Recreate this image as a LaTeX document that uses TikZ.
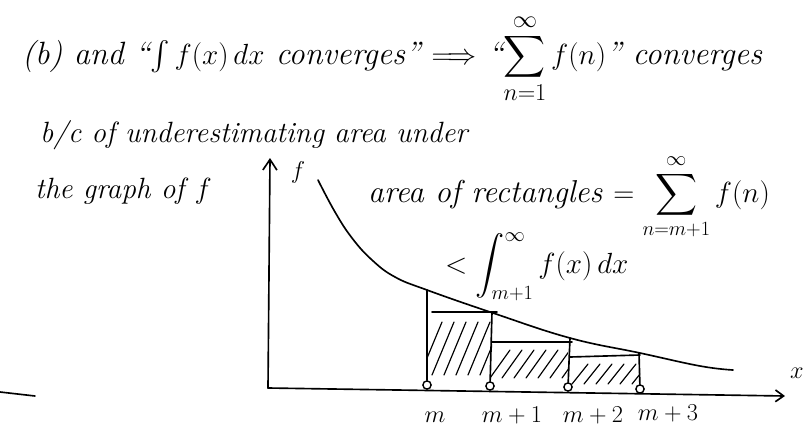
\documentclass[tikz,border=0pt]{standalone}
\usepackage{amsmath}
\usepackage{exscale}
\usetikzlibrary{arrows.meta}
\begin{document}
\begin{tikzpicture}[x=0.03cm,y=-0.03cm,
  hand/.style={line width=1.4pt,line cap=round,line join=round},
  thin hand/.style={line width=1pt,line cap=round},
  note/.style={font=\fontsize{25}{30}\selectfont\itshape,inner sep=0pt,anchor=base west},
  ticklabel/.style={font=\fontsize{21}{24}\selectfont\itshape,inner sep=0pt,anchor=base},
  axisdot/.style={circle,draw,line width=1.2pt,inner sep=0pt,minimum size=7pt}]
\useasboundingbox (0,0) rectangle (809,440);

% Statement and reasoning
\node[note,font=\fontsize{27.5}{32}\selectfont\itshape] (claim) at (22,64) {(b) and ``$\int f(x)\,dx$ converges'' $\Longrightarrow$ ``$\displaystyle\sum_{n=1}^{\infty} f(n)$'' converges};
\node[note] (reason) at (40,142) {b/c of underestimating area under};
\node[note] (graphof) at (35,198) {the graph of $f$};
\node[note,font=\fontsize{27}{32}\selectfont\itshape] (area) at (368,202) {area of rectangles $=\displaystyle\sum_{n=m+1}^{\infty} f(n)$};
\node[note] (bound) at (445,273) {$<\displaystyle\int_{m+1}^{\infty} f(x)\,dx$};

% Axes
\coordinate (origin) at (268,388);
\coordinate (ytop) at (270,158);
\coordinate (xend) at (785,396);
\draw[hand,-{Straight Barb[length=9pt,width=12pt]}] (origin) -- (ytop);
\draw[hand,-{Straight Barb[length=7pt,width=10pt]}] (origin) -- (xend);
\node[ticklabel] (flab) at (298,178) {$f$};
\node[ticklabel] (xlab) at (797,378) {$x$};

% Points on the x-axis
\node[axisdot] (m0) at (427,385) {};
\node[axisdot] (m1) at (490,386) {};
\node[axisdot] (m2) at (568,387) {};
\node[axisdot] (m3) at (640,389) {};
\node[ticklabel] (lm0) at (435,422) {$m$};
\node[ticklabel] (lm1) at (512,422) {$m+1$};
\node[ticklabel] (lm2) at (593,422) {$m+2$};
\node[ticklabel] (lm3) at (668,420) {$m+3$};

% Hatched rectangles (right endpoint heights)
\begin{scope}
\clip (427,312) rectangle (492,385);
\foreach \s in {0,...,5} \draw[thin hand] (420+\s*12,375) -- (442+\s*12,322);
\end{scope}
\begin{scope}
\clip (490,342) rectangle (568,386);
\foreach \s in {0,...,6} \draw[thin hand] (490+\s*12,378) -- (510+\s*12,350);
\end{scope}
\begin{scope}
\clip (568,357) rectangle (640,388);
\foreach \s in {0,...,5} \draw[thin hand] (572+\s*12,384) -- (588+\s*12,364);
\end{scope}
\draw[hand] (m0) -- (427,290);
\draw[hand] (432,312) -- (497,312);
\draw[hand] (m1) -- (492,312);
\draw[hand] (492,342) -- (572,342);
\draw[hand] (m2) -- (570,338);
\draw[hand] (570,357) -- (640,355);
\draw[hand] (m3) -- (639,353);

% The graph of f
\draw[hand] plot[smooth,tension=0.7] coordinates {(318,180) (335,212) (352,238) (372,260) (395,277) (427,290) (493,313) (570,338) (640,353) (700,366) (733,370)};

% Stray stroke at the lower left
\draw[hand] (0,392) -- (35,396);
\end{tikzpicture}
\end{document}
